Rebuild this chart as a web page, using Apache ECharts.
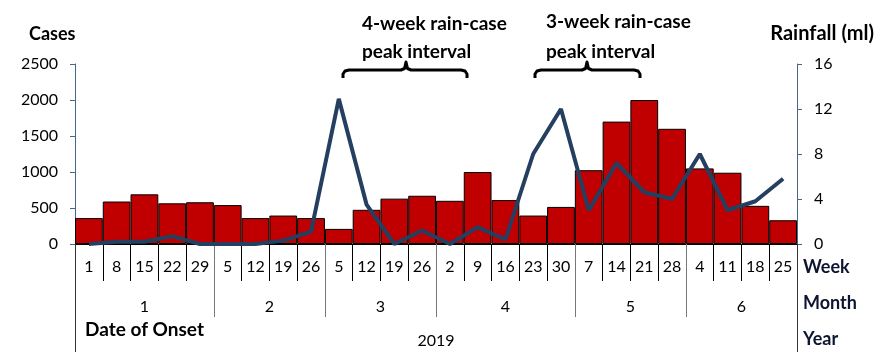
<!DOCTYPE html>
<html>
<head>
<meta charset="utf-8">
<script src="https://cdn.jsdelivr.net/npm/echarts@6/dist/echarts.min.js"></script>
<style>
html,body{margin:0;padding:0;background:#fff;}
#main{width:881px;height:355px;}
</style>
</head>
<body>
<div id="main"></div>
<script>
// ---- data ----
const weeks = ['1','8','15','22','29','5','12','19','26','5','12','19','26','2','9','16','23','30','7','14','21','28','4','11','18','25'];
const cases = [360,590,690,565,580,540,360,395,360,210,475,630,670,600,1000,610,395,515,1025,1700,2000,1600,1050,990,530,330];
const rainfall = [0,0.2,0.2,0.7,0,0,0,0.3,1.1,12.9,3.5,0,1.2,0,1.5,0.4,8,12,3,7.2,4.6,4,8,3,3.8,5.8];
const months = ['1','2','3','4','5','6'];
const monthWeekCounts = [5,4,4,5,4,4];
const yearLabel = '2019';

// month boundaries and centres derived from week counts
const monthBounds = [0];
monthWeekCounts.forEach(c => monthBounds.push(monthBounds[monthBounds.length-1] + c));
const monthCentres = months.map((m,i) => (monthBounds[i] + monthBounds[i+1]) / 2);
const nWeeks = weeks.length;

const FONT = 'Lato, "Open Sans", sans-serif';
const chart = echarts.init(document.getElementById('main'));

function brace(x1, xm, x2, yTop, yLine, yEnd) {
  return [
    [x1, yEnd], [x1, yLine + 4], [x1 + 2, yLine + 1], [x1 + 6, yLine],
    [xm - 5, yLine], [xm - 1.5, yLine - 1.5], [xm, yTop],
    [xm + 1.5, yLine - 1.5], [xm + 5, yLine],
    [x2 - 6, yLine], [x2 - 2, yLine + 1], [x2, yLine + 4], [x2, yEnd]
  ];
}

chart.setOption({
  animation: false,
  textStyle: { fontFamily: FONT },
  grid: { left: 75, right: 84, top: 64, bottom: 111, containLabel: false },
  xAxis: [
    {
      type: 'category', data: weeks, position: 'bottom',
      axisLine: { show: true, onZero: false, lineStyle: { color: '#000', width: 1 } },
      axisTick: { show: true, interval: 0, length: 37, lineStyle: { color: '#000', width: 1 } },
      axisLabel: { interval: 0, fontSize: 16, color: '#000', margin: 15, fontFamily: FONT },
      splitLine: { show: false }
    },
    {
      type: 'value', min: 0, max: nWeeks, position: 'bottom',
      axisLine: { show: false, onZero: false },
      axisTick: { show: true, customValues: monthBounds, length: 73, lineStyle: { color: '#777', width: 1 } },
      axisLabel: { show: true, customValues: monthCentres, fontSize: 16, color: '#000', margin: 55, fontFamily: FONT,
        formatter: v => { const i = monthCentres.indexOf(v); return i >= 0 ? months[i] : ''; } },
      splitLine: { show: false }
    },
    {
      type: 'value', min: 0, max: nWeeks, position: 'bottom',
      axisLine: { show: false, onZero: false },
      axisTick: { show: true, customValues: [0, nWeeks], length: 108, lineStyle: { color: '#333', width: 1 } },
      axisLabel: { show: true, customValues: [nWeeks / 2], fontSize: 16, color: '#000', margin: 89, fontFamily: FONT,
        formatter: () => yearLabel },
      splitLine: { show: false }
    }
  ],
  yAxis: [
    {
      type: 'value', min: 0, max: 2500, interval: 500, position: 'left',
      axisLine: { show: true, onZero: false, lineStyle: { color: '#4a6788', width: 1 } },
      axisTick: { show: true, length: 5, lineStyle: { color: '#4a6788' } },
      axisLabel: { fontSize: 16, color: '#000', margin: 17, fontFamily: FONT, formatter: v => String(v) },
      splitLine: { show: false }
    },
    {
      type: 'value', min: 0, max: 16, interval: 4, position: 'right',
      axisLine: { show: true, onZero: false, lineStyle: { color: '#4a6788', width: 1 } },
      axisTick: { show: true, length: 5, lineStyle: { color: '#4a6788' } },
      axisLabel: { fontSize: 16, color: '#000', margin: 17, fontFamily: FONT, formatter: v => String(v) },
      splitLine: { show: false }
    }
  ],
  series: [
    {
      name: 'Cases', type: 'bar', data: cases, xAxisIndex: 0, yAxisIndex: 0,
      barCategoryGap: '0%',
      itemStyle: { color: '#C00000', borderColor: '#000', borderWidth: 1 }
    },
    {
      name: 'Rainfall', type: 'line', data: rainfall, xAxisIndex: 0, yAxisIndex: 1,
      symbol: 'none', lineStyle: { color: '#243F60', width: 4 }, z: 5
    }
  ],
  graphic: [
    { type: 'text', left: 29, top: 25, style: { text: 'Cases', font: 'bold 18px ' + FONT, fill: '#000' } },
    { type: 'text', right: 7, top: 24, style: { text: 'Rainfall (ml)', font: 'bold 20px ' + FONT, fill: '#000' } },
    { type: 'text', left: 362, top: 14, style: { text: '4-week rain-case', font: 'bold 19px ' + FONT, fill: '#000' } },
    { type: 'text', left: 362, top: 42, style: { text: 'peak interval', font: 'bold 19px ' + FONT, fill: '#000' } },
    { type: 'text', left: 546, top: 12, style: { text: '3-week rain-case', font: 'bold 19px ' + FONT, fill: '#000' } },
    { type: 'text', left: 546, top: 42, style: { text: 'peak interval', font: 'bold 19px ' + FONT, fill: '#000' } },
    { type: 'polyline', shape: { points: brace(343, 406, 467, 62, 70, 78) },
      style: { stroke: '#000', lineWidth: 3, fill: null, lineJoin: 'round' } },
    { type: 'polyline', shape: { points: brace(535, 587, 640, 62, 70, 78) },
      style: { stroke: '#000', lineWidth: 3, fill: null, lineJoin: 'round' } },
    { type: 'text', left: 803, top: 258, style: { text: 'Week', font: 'bold 18px ' + FONT, fill: '#0d1530' } },
    { type: 'text', left: 803, top: 294, style: { text: 'Month', font: 'bold 18px ' + FONT, fill: '#0d1530' } },
    { type: 'text', left: 803, top: 330, style: { text: 'Year', font: 'bold 18px ' + FONT, fill: '#0d1530' } },
    { type: 'text', left: 85, top: 320, style: { text: 'Date of Onset', font: 'bold 19px ' + FONT, fill: '#000' } }
  ]
});
</script>
</body>
</html>
